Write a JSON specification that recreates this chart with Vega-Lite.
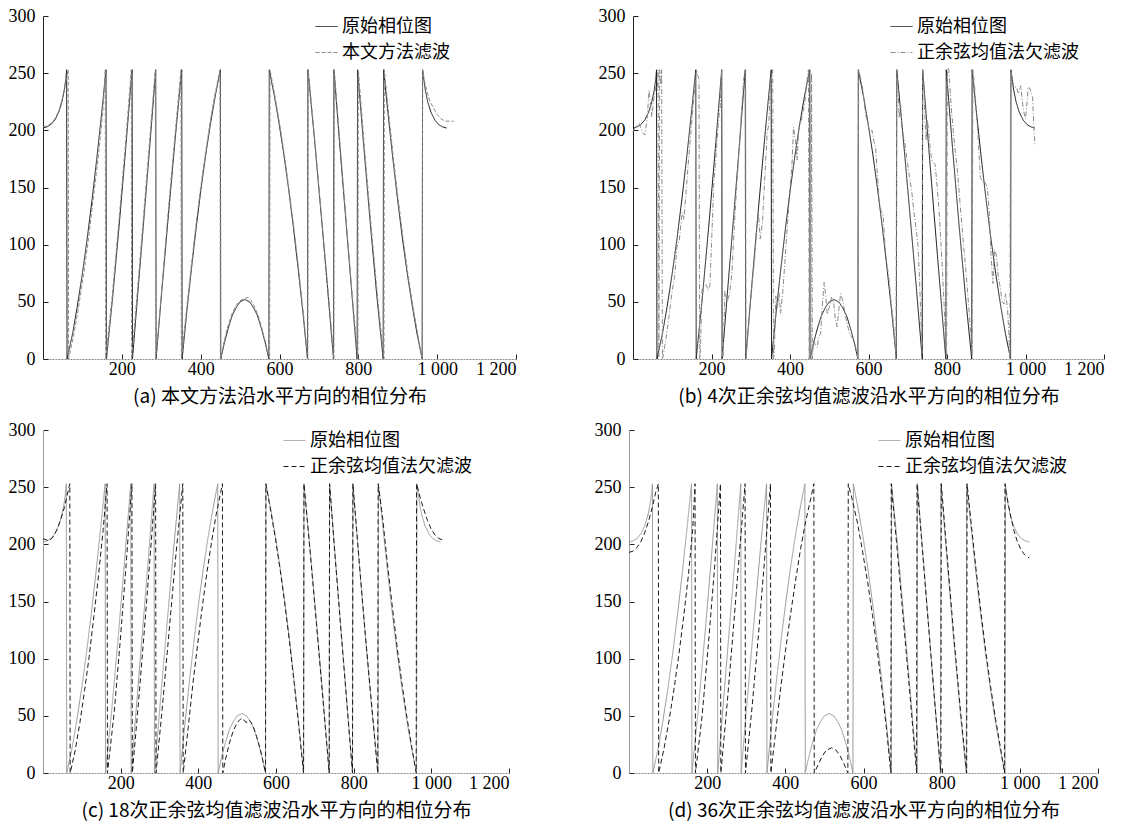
{
  "$schema": "https://vega.github.io/schema/vega-lite/v6.json",
  "background": "white",
  "padding": {"left": 8, "top": 7, "right": 5, "bottom": 5},
  "config": {
    "view": {"stroke": null},
    "axis": {"grid": false, "labelFont": "Liberation Serif", "labelFontSize": 18, "labelColor": "#000", "titleFont": "Noto Sans CJK SC", "titleFontSize": 19, "titleFontWeight": "normal", "titleColor": "#000", "domainColor": "#222", "tickColor": "#222"},
    "legend": {"title": null, "orient": "none", "legendY": -1, "symbolType": "stroke", "symbolSize": 484, "symbolStrokeWidth": 1, "labelFont": "Noto Sans CJK SC", "labelFontSize": 18, "labelColor": "#000", "labelLimit": 400, "rowPadding": 5, "padding": 0, "labelOffset": 4}
  },
  "datasets": {
    "orig": [
      {"x":0,"y":202,"s":"o"},{"x":10,"y":203,"s":"o"},{"x":20,"y":205,"s":"o"},{"x":30,"y":209,"s":"o"},{"x":40,"y":216,"s":"o"},{"x":48,"y":225,"s":"o"},{"x":54,"y":235,"s":"o"},{"x":58,"y":245,"s":"o"},{"x":60,"y":253,"s":"o"},{"x":61,"y":0,"s":"o"},{"x":75,"y":22,"s":"o"},{"x":87,"y":46,"s":"o"},{"x":100,"y":75,"s":"o"},{"x":112,"y":105,"s":"o"},{"x":125,"y":141,"s":"o"},{"x":137,"y":177,"s":"o"},{"x":150,"y":219,"s":"o"},{"x":160,"y":253,"s":"o"},{"x":161,"y":0,"s":"o"},{"x":177,"y":55,"s":"o"},{"x":194,"y":120,"s":"o"},{"x":210,"y":185,"s":"o"},{"x":226,"y":253,"s":"o"},{"x":227,"y":0,"s":"o"},{"x":242,"y":64,"s":"o"},{"x":257,"y":127,"s":"o"},{"x":272,"y":191,"s":"o"},{"x":286,"y":253,"s":"o"},{"x":287,"y":0,"s":"o"},{"x":303,"y":66,"s":"o"},{"x":320,"y":133,"s":"o"},{"x":336,"y":195,"s":"o"},{"x":352,"y":253,"s":"o"},{"x":353,"y":0,"s":"o"},{"x":365,"y":42,"s":"o"},{"x":377,"y":80,"s":"o"},{"x":389,"y":116,"s":"o"},{"x":401,"y":149,"s":"o"},{"x":413,"y":179,"s":"o"},{"x":425,"y":206,"s":"o"},{"x":437,"y":230,"s":"o"},{"x":450,"y":253,"s":"o"},{"x":451,"y":0,"s":"o"},{"x":460,"y":14,"s":"o"},{"x":470,"y":27,"s":"o"},{"x":480,"y":38,"s":"o"},{"x":490,"y":45,"s":"o"},{"x":500,"y":50,"s":"o"},{"x":512,"y":52,"s":"o"},{"x":524,"y":50,"s":"o"},{"x":534,"y":45,"s":"o"},{"x":544,"y":38,"s":"o"},{"x":554,"y":27,"s":"o"},{"x":564,"y":14,"s":"o"},{"x":573,"y":0,"s":"o"},{"x":574,"y":253,"s":"o"},{"x":587,"y":230,"s":"o"},{"x":599,"y":206,"s":"o"},{"x":611,"y":179,"s":"o"},{"x":623,"y":149,"s":"o"},{"x":635,"y":116,"s":"o"},{"x":647,"y":80,"s":"o"},{"x":659,"y":42,"s":"o"},{"x":671,"y":0,"s":"o"},{"x":672,"y":253,"s":"o"},{"x":688,"y":195,"s":"o"},{"x":704,"y":133,"s":"o"},{"x":721,"y":66,"s":"o"},{"x":737,"y":0,"s":"o"},{"x":738,"y":253,"s":"o"},{"x":752,"y":191,"s":"o"},{"x":767,"y":127,"s":"o"},{"x":782,"y":64,"s":"o"},{"x":797,"y":0,"s":"o"},{"x":798,"y":253,"s":"o"},{"x":814,"y":185,"s":"o"},{"x":830,"y":120,"s":"o"},{"x":847,"y":55,"s":"o"},{"x":863,"y":0,"s":"o"},{"x":864,"y":253,"s":"o"},{"x":874,"y":219,"s":"o"},{"x":887,"y":177,"s":"o"},{"x":899,"y":141,"s":"o"},{"x":912,"y":105,"s":"o"},{"x":924,"y":75,"s":"o"},{"x":937,"y":46,"s":"o"},{"x":949,"y":22,"s":"o"},{"x":962,"y":0,"s":"o"},{"x":963,"y":253,"s":"o"},{"x":966,"y":245,"s":"o"},{"x":970,"y":235,"s":"o"},{"x":976,"y":225,"s":"o"},{"x":984,"y":216,"s":"o"},{"x":994,"y":209,"s":"o"},{"x":1004,"y":205,"s":"o"},{"x":1014,"y":203,"s":"o"},{"x":1024,"y":202,"s":"o"}
    ],
    "fa": [
      {"x":0,"y":203,"s":"f"},{"x":10,"y":204,"s":"f"},{"x":20,"y":206,"s":"f"},{"x":30,"y":210,"s":"f"},{"x":40,"y":217,"s":"f"},{"x":48,"y":226,"s":"f"},{"x":55,"y":237,"s":"f"},{"x":60,"y":247,"s":"f"},{"x":64,"y":253,"s":"f"},{"x":65,"y":0,"s":"f"},{"x":78,"y":21,"s":"f"},{"x":90,"y":45,"s":"f"},{"x":103,"y":74,"s":"f"},{"x":115,"y":104,"s":"f"},{"x":127,"y":139,"s":"f"},{"x":140,"y":176,"s":"f"},{"x":152,"y":217,"s":"f"},{"x":158,"y":253,"s":"f"},{"x":159,"y":0,"s":"f"},{"x":175,"y":53,"s":"f"},{"x":192,"y":118,"s":"f"},{"x":208,"y":183,"s":"f"},{"x":224,"y":253,"s":"f"},{"x":225,"y":0,"s":"f"},{"x":240,"y":62,"s":"f"},{"x":255,"y":125,"s":"f"},{"x":270,"y":189,"s":"f"},{"x":285,"y":253,"s":"f"},{"x":286,"y":0,"s":"f"},{"x":302,"y":64,"s":"f"},{"x":318,"y":130,"s":"f"},{"x":334,"y":193,"s":"f"},{"x":350,"y":253,"s":"f"},{"x":351,"y":0,"s":"f"},{"x":364,"y":43,"s":"f"},{"x":376,"y":81,"s":"f"},{"x":388,"y":117,"s":"f"},{"x":400,"y":150,"s":"f"},{"x":412,"y":180,"s":"f"},{"x":424,"y":207,"s":"f"},{"x":436,"y":231,"s":"f"},{"x":449,"y":253,"s":"f"},{"x":450,"y":0,"s":"f"},{"x":460,"y":16,"s":"f"},{"x":470,"y":30,"s":"f"},{"x":480,"y":40,"s":"f"},{"x":490,"y":47,"s":"f"},{"x":500,"y":51,"s":"f"},{"x":512,"y":53,"s":"f"},{"x":520,"y":54,"s":"f"},{"x":528,"y":51,"s":"f"},{"x":536,"y":46,"s":"f"},{"x":546,"y":38,"s":"f"},{"x":556,"y":26,"s":"f"},{"x":566,"y":12,"s":"f"},{"x":575,"y":0,"s":"f"},{"x":576,"y":253,"s":"f"},{"x":589,"y":229,"s":"f"},{"x":601,"y":204,"s":"f"},{"x":613,"y":177,"s":"f"},{"x":625,"y":146,"s":"f"},{"x":637,"y":113,"s":"f"},{"x":649,"y":77,"s":"f"},{"x":661,"y":39,"s":"f"},{"x":672,"y":0,"s":"f"},{"x":673,"y":253,"s":"f"},{"x":689,"y":194,"s":"f"},{"x":705,"y":131,"s":"f"},{"x":722,"y":64,"s":"f"},{"x":738,"y":0,"s":"f"},{"x":739,"y":253,"s":"f"},{"x":753,"y":190,"s":"f"},{"x":768,"y":126,"s":"f"},{"x":783,"y":62,"s":"f"},{"x":799,"y":0,"s":"f"},{"x":800,"y":253,"s":"f"},{"x":816,"y":183,"s":"f"},{"x":832,"y":118,"s":"f"},{"x":849,"y":53,"s":"f"},{"x":865,"y":0,"s":"f"},{"x":866,"y":253,"s":"f"},{"x":876,"y":218,"s":"f"},{"x":889,"y":176,"s":"f"},{"x":901,"y":140,"s":"f"},{"x":914,"y":104,"s":"f"},{"x":926,"y":74,"s":"f"},{"x":939,"y":45,"s":"f"},{"x":951,"y":21,"s":"f"},{"x":962,"y":0,"s":"f"},{"x":963,"y":253,"s":"f"},{"x":968,"y":243,"s":"f"},{"x":974,"y":234,"s":"f"},{"x":982,"y":225,"s":"f"},{"x":990,"y":220,"s":"f"},{"x":1000,"y":214,"s":"f"},{"x":1010,"y":210,"s":"f"},{"x":1020,"y":208,"s":"f"},{"x":1030,"y":208,"s":"f"},{"x":1042,"y":208,"s":"f"}
    ],
    "fb": [
      {"x":0,"y":199,"s":"f"},{"x":8,"y":204,"s":"f"},{"x":16,"y":206,"s":"f"},{"x":24,"y":198,"s":"f"},{"x":30,"y":196,"s":"f"},{"x":36,"y":210,"s":"f"},{"x":41,"y":235,"s":"f"},{"x":45,"y":222,"s":"f"},{"x":48,"y":212,"s":"f"},{"x":53,"y":228,"s":"f"},{"x":58,"y":238,"s":"f"},{"x":62,"y":236,"s":"f"},{"x":64,"y":253,"s":"f"},{"x":66,"y":2,"s":"f"},{"x":68,"y":253,"s":"f"},{"x":71,"y":240,"s":"f"},{"x":73,"y":253,"s":"f"},{"x":75,"y":0,"s":"f"},{"x":78,"y":5,"s":"f"},{"x":84,"y":18,"s":"f"},{"x":92,"y":38,"s":"f"},{"x":100,"y":60,"s":"f"},{"x":106,"y":72,"s":"f"},{"x":112,"y":98,"s":"f"},{"x":118,"y":104,"s":"f"},{"x":125,"y":128,"s":"f"},{"x":130,"y":122,"s":"f"},{"x":136,"y":150,"s":"f"},{"x":142,"y":176,"s":"f"},{"x":148,"y":200,"s":"f"},{"x":154,"y":225,"s":"f"},{"x":158,"y":240,"s":"f"},{"x":162,"y":253,"s":"f"},{"x":165,"y":248,"s":"f"},{"x":168,"y":245,"s":"f"},{"x":170,"y":0,"s":"f"},{"x":172,"y":10,"s":"f"},{"x":176,"y":62,"s":"f"},{"x":186,"y":65,"s":"f"},{"x":192,"y":60,"s":"f"},{"x":196,"y":65,"s":"f"},{"x":200,"y":100,"s":"f"},{"x":206,"y":155,"s":"f"},{"x":212,"y":180,"s":"f"},{"x":218,"y":210,"s":"f"},{"x":222,"y":220,"s":"f"},{"x":226,"y":253,"s":"f"},{"x":228,"y":0,"s":"f"},{"x":230,"y":3,"s":"f"},{"x":234,"y":60,"s":"f"},{"x":240,"y":50,"s":"f"},{"x":246,"y":57,"s":"f"},{"x":252,"y":75,"s":"f"},{"x":258,"y":115,"s":"f"},{"x":264,"y":150,"s":"f"},{"x":270,"y":180,"s":"f"},{"x":276,"y":215,"s":"f"},{"x":282,"y":245,"s":"f"},{"x":287,"y":253,"s":"f"},{"x":288,"y":0,"s":"f"},{"x":295,"y":30,"s":"f"},{"x":302,"y":60,"s":"f"},{"x":310,"y":88,"s":"f"},{"x":316,"y":118,"s":"f"},{"x":320,"y":127,"s":"f"},{"x":324,"y":105,"s":"f"},{"x":330,"y":120,"s":"f"},{"x":336,"y":160,"s":"f"},{"x":342,"y":198,"s":"f"},{"x":346,"y":205,"s":"f"},{"x":350,"y":240,"s":"f"},{"x":356,"y":253,"s":"f"},{"x":358,"y":0,"s":"f"},{"x":360,"y":5,"s":"f"},{"x":364,"y":55,"s":"f"},{"x":368,"y":45,"s":"f"},{"x":372,"y":58,"s":"f"},{"x":376,"y":40,"s":"f"},{"x":382,"y":60,"s":"f"},{"x":390,"y":100,"s":"f"},{"x":398,"y":140,"s":"f"},{"x":405,"y":170,"s":"f"},{"x":409,"y":203,"s":"f"},{"x":414,"y":190,"s":"f"},{"x":418,"y":174,"s":"f"},{"x":422,"y":200,"s":"f"},{"x":425,"y":206,"s":"f"},{"x":430,"y":210,"s":"f"},{"x":434,"y":217,"s":"f"},{"x":438,"y":225,"s":"f"},{"x":442,"y":240,"s":"f"},{"x":447,"y":253,"s":"f"},{"x":449,"y":0,"s":"f"},{"x":451,"y":253,"s":"f"},{"x":453,"y":0,"s":"f"},{"x":455,"y":250,"s":"f"},{"x":457,"y":0,"s":"f"},{"x":460,"y":16,"s":"f"},{"x":465,"y":12,"s":"f"},{"x":469,"y":10,"s":"f"},{"x":474,"y":20,"s":"f"},{"x":478,"y":22,"s":"f"},{"x":483,"y":50,"s":"f"},{"x":487,"y":67,"s":"f"},{"x":491,"y":55,"s":"f"},{"x":495,"y":39,"s":"f"},{"x":500,"y":45,"s":"f"},{"x":506,"y":54,"s":"f"},{"x":511,"y":50,"s":"f"},{"x":515,"y":36,"s":"f"},{"x":520,"y":28,"s":"f"},{"x":525,"y":45,"s":"f"},{"x":529,"y":57,"s":"f"},{"x":534,"y":52,"s":"f"},{"x":540,"y":40,"s":"f"},{"x":546,"y":30,"s":"f"},{"x":552,"y":22,"s":"f"},{"x":560,"y":18,"s":"f"},{"x":566,"y":12,"s":"f"},{"x":571,"y":5,"s":"f"},{"x":573,"y":0,"s":"f"},{"x":575,"y":253,"s":"f"},{"x":580,"y":245,"s":"f"},{"x":586,"y":235,"s":"f"},{"x":592,"y":215,"s":"f"},{"x":598,"y":206,"s":"f"},{"x":603,"y":198,"s":"f"},{"x":609,"y":200,"s":"f"},{"x":614,"y":190,"s":"f"},{"x":618,"y":185,"s":"f"},{"x":622,"y":165,"s":"f"},{"x":627,"y":139,"s":"f"},{"x":632,"y":130,"s":"f"},{"x":637,"y":127,"s":"f"},{"x":642,"y":100,"s":"f"},{"x":646,"y":86,"s":"f"},{"x":652,"y":70,"s":"f"},{"x":658,"y":48,"s":"f"},{"x":664,"y":30,"s":"f"},{"x":668,"y":12,"s":"f"},{"x":670,"y":0,"s":"f"},{"x":672,"y":253,"s":"f"},{"x":675,"y":240,"s":"f"},{"x":678,"y":211,"s":"f"},{"x":682,"y":222,"s":"f"},{"x":686,"y":200,"s":"f"},{"x":692,"y":190,"s":"f"},{"x":698,"y":175,"s":"f"},{"x":704,"y":160,"s":"f"},{"x":710,"y":147,"s":"f"},{"x":716,"y":128,"s":"f"},{"x":722,"y":112,"s":"f"},{"x":726,"y":100,"s":"f"},{"x":730,"y":70,"s":"f"},{"x":734,"y":30,"s":"f"},{"x":736,"y":5,"s":"f"},{"x":738,"y":253,"s":"f"},{"x":741,"y":240,"s":"f"},{"x":744,"y":210,"s":"f"},{"x":747,"y":191,"s":"f"},{"x":750,"y":209,"s":"f"},{"x":753,"y":200,"s":"f"},{"x":757,"y":185,"s":"f"},{"x":761,"y":174,"s":"f"},{"x":765,"y":172,"s":"f"},{"x":770,"y":170,"s":"f"},{"x":775,"y":150,"s":"f"},{"x":779,"y":133,"s":"f"},{"x":784,"y":105,"s":"f"},{"x":788,"y":80,"s":"f"},{"x":793,"y":45,"s":"f"},{"x":797,"y":10,"s":"f"},{"x":799,"y":0,"s":"f"},{"x":801,"y":253,"s":"f"},{"x":804,"y":255,"s":"f"},{"x":807,"y":240,"s":"f"},{"x":812,"y":215,"s":"f"},{"x":816,"y":200,"s":"f"},{"x":820,"y":185,"s":"f"},{"x":825,"y":170,"s":"f"},{"x":830,"y":150,"s":"f"},{"x":836,"y":125,"s":"f"},{"x":842,"y":100,"s":"f"},{"x":848,"y":78,"s":"f"},{"x":854,"y":52,"s":"f"},{"x":860,"y":25,"s":"f"},{"x":864,"y":3,"s":"f"},{"x":866,"y":253,"s":"f"},{"x":870,"y":240,"s":"f"},{"x":875,"y":215,"s":"f"},{"x":880,"y":190,"s":"f"},{"x":885,"y":159,"s":"f"},{"x":890,"y":155,"s":"f"},{"x":894,"y":156,"s":"f"},{"x":899,"y":153,"s":"f"},{"x":903,"y":150,"s":"f"},{"x":908,"y":127,"s":"f"},{"x":912,"y":92,"s":"f"},{"x":917,"y":66,"s":"f"},{"x":921,"y":96,"s":"f"},{"x":926,"y":90,"s":"f"},{"x":931,"y":71,"s":"f"},{"x":936,"y":62,"s":"f"},{"x":940,"y":51,"s":"f"},{"x":945,"y":48,"s":"f"},{"x":949,"y":57,"s":"f"},{"x":954,"y":45,"s":"f"},{"x":958,"y":20,"s":"f"},{"x":960,"y":0,"s":"f"},{"x":962,"y":253,"s":"f"},{"x":966,"y":245,"s":"f"},{"x":970,"y":238,"s":"f"},{"x":977,"y":238,"s":"f"},{"x":982,"y":232,"s":"f"},{"x":988,"y":239,"s":"f"},{"x":992,"y":225,"s":"f"},{"x":995,"y":217,"s":"f"},{"x":1000,"y":210,"s":"f"},{"x":1004,"y":225,"s":"f"},{"x":1007,"y":238,"s":"f"},{"x":1012,"y":236,"s":"f"},{"x":1018,"y":229,"s":"f"},{"x":1021,"y":205,"s":"f"},{"x":1024,"y":186,"s":"f"}
    ],
    "fc": [
      {"x":0,"y":205,"s":"f"},{"x":8,"y":204,"s":"f"},{"x":15,"y":203,"s":"f"},{"x":25,"y":206,"s":"f"},{"x":35,"y":212,"s":"f"},{"x":45,"y":221,"s":"f"},{"x":55,"y":232,"s":"f"},{"x":63,"y":244,"s":"f"},{"x":69,"y":253,"s":"f"},{"x":70,"y":0,"s":"f"},{"x":83,"y":20,"s":"f"},{"x":95,"y":44,"s":"f"},{"x":107,"y":72,"s":"f"},{"x":119,"y":102,"s":"f"},{"x":131,"y":137,"s":"f"},{"x":143,"y":173,"s":"f"},{"x":155,"y":213,"s":"f"},{"x":165,"y":253,"s":"f"},{"x":166,"y":0,"s":"f"},{"x":183,"y":52,"s":"f"},{"x":199,"y":116,"s":"f"},{"x":214,"y":182,"s":"f"},{"x":229,"y":253,"s":"f"},{"x":230,"y":0,"s":"f"},{"x":246,"y":62,"s":"f"},{"x":261,"y":125,"s":"f"},{"x":276,"y":190,"s":"f"},{"x":290,"y":253,"s":"f"},{"x":291,"y":0,"s":"f"},{"x":308,"y":60,"s":"f"},{"x":325,"y":125,"s":"f"},{"x":342,"y":190,"s":"f"},{"x":360,"y":253,"s":"f"},{"x":361,"y":0,"s":"f"},{"x":374,"y":40,"s":"f"},{"x":386,"y":78,"s":"f"},{"x":398,"y":112,"s":"f"},{"x":410,"y":145,"s":"f"},{"x":422,"y":175,"s":"f"},{"x":434,"y":202,"s":"f"},{"x":446,"y":226,"s":"f"},{"x":462,"y":253,"s":"f"},{"x":463,"y":0,"s":"f"},{"x":470,"y":12,"s":"f"},{"x":480,"y":26,"s":"f"},{"x":490,"y":37,"s":"f"},{"x":500,"y":44,"s":"f"},{"x":508,"y":47,"s":"f"},{"x":514,"y":48,"s":"f"},{"x":520,"y":45,"s":"f"},{"x":526,"y":44,"s":"f"},{"x":532,"y":46,"s":"f"},{"x":540,"y":42,"s":"f"},{"x":550,"y":32,"s":"f"},{"x":560,"y":20,"s":"f"},{"x":568,"y":8,"s":"f"},{"x":573,"y":0,"s":"f"},{"x":574,"y":253,"s":"f"},{"x":587,"y":228,"s":"f"},{"x":599,"y":204,"s":"f"},{"x":611,"y":177,"s":"f"},{"x":623,"y":147,"s":"f"},{"x":635,"y":114,"s":"f"},{"x":647,"y":78,"s":"f"},{"x":659,"y":40,"s":"f"},{"x":671,"y":0,"s":"f"},{"x":672,"y":253,"s":"f"},{"x":688,"y":193,"s":"f"},{"x":704,"y":131,"s":"f"},{"x":721,"y":64,"s":"f"},{"x":737,"y":0,"s":"f"},{"x":738,"y":253,"s":"f"},{"x":752,"y":190,"s":"f"},{"x":767,"y":126,"s":"f"},{"x":782,"y":63,"s":"f"},{"x":797,"y":0,"s":"f"},{"x":798,"y":253,"s":"f"},{"x":814,"y":186,"s":"f"},{"x":830,"y":121,"s":"f"},{"x":847,"y":57,"s":"f"},{"x":862,"y":0,"s":"f"},{"x":863,"y":253,"s":"f"},{"x":874,"y":225,"s":"f"},{"x":887,"y":183,"s":"f"},{"x":899,"y":147,"s":"f"},{"x":912,"y":110,"s":"f"},{"x":924,"y":79,"s":"f"},{"x":937,"y":49,"s":"f"},{"x":949,"y":24,"s":"f"},{"x":961,"y":0,"s":"f"},{"x":962,"y":253,"s":"f"},{"x":966,"y":248,"s":"f"},{"x":972,"y":240,"s":"f"},{"x":980,"y":231,"s":"f"},{"x":990,"y":221,"s":"f"},{"x":1000,"y":213,"s":"f"},{"x":1010,"y":208,"s":"f"},{"x":1020,"y":205,"s":"f"},{"x":1028,"y":204,"s":"f"}
    ],
    "fd": [
      {"x":0,"y":193,"s":"f"},{"x":10,"y":194,"s":"f"},{"x":20,"y":197,"s":"f"},{"x":30,"y":202,"s":"f"},{"x":40,"y":210,"s":"f"},{"x":50,"y":220,"s":"f"},{"x":60,"y":233,"s":"f"},{"x":68,"y":245,"s":"f"},{"x":75,"y":253,"s":"f"},{"x":76,"y":0,"s":"f"},{"x":90,"y":22,"s":"f"},{"x":102,"y":45,"s":"f"},{"x":115,"y":73,"s":"f"},{"x":127,"y":102,"s":"f"},{"x":140,"y":137,"s":"f"},{"x":152,"y":173,"s":"f"},{"x":163,"y":213,"s":"f"},{"x":169,"y":253,"s":"f"},{"x":170,"y":0,"s":"f"},{"x":187,"y":50,"s":"f"},{"x":203,"y":112,"s":"f"},{"x":219,"y":180,"s":"f"},{"x":234,"y":253,"s":"f"},{"x":235,"y":0,"s":"f"},{"x":251,"y":60,"s":"f"},{"x":266,"y":122,"s":"f"},{"x":282,"y":190,"s":"f"},{"x":297,"y":253,"s":"f"},{"x":298,"y":0,"s":"f"},{"x":315,"y":58,"s":"f"},{"x":331,"y":120,"s":"f"},{"x":347,"y":187,"s":"f"},{"x":362,"y":253,"s":"f"},{"x":363,"y":0,"s":"f"},{"x":376,"y":38,"s":"f"},{"x":388,"y":74,"s":"f"},{"x":400,"y":106,"s":"f"},{"x":413,"y":138,"s":"f"},{"x":426,"y":168,"s":"f"},{"x":439,"y":196,"s":"f"},{"x":452,"y":220,"s":"f"},{"x":465,"y":240,"s":"f"},{"x":473,"y":253,"s":"f"},{"x":474,"y":0,"s":"f"},{"x":485,"y":8,"s":"f"},{"x":495,"y":15,"s":"f"},{"x":505,"y":20,"s":"f"},{"x":518,"y":22,"s":"f"},{"x":530,"y":20,"s":"f"},{"x":540,"y":15,"s":"f"},{"x":550,"y":8,"s":"f"},{"x":560,"y":0,"s":"f"},{"x":561,"y":253,"s":"f"},{"x":572,"y":238,"s":"f"},{"x":585,"y":218,"s":"f"},{"x":598,"y":193,"s":"f"},{"x":611,"y":166,"s":"f"},{"x":623,"y":138,"s":"f"},{"x":635,"y":108,"s":"f"},{"x":647,"y":74,"s":"f"},{"x":659,"y":38,"s":"f"},{"x":670,"y":0,"s":"f"},{"x":671,"y":253,"s":"f"},{"x":687,"y":192,"s":"f"},{"x":703,"y":130,"s":"f"},{"x":720,"y":64,"s":"f"},{"x":736,"y":0,"s":"f"},{"x":737,"y":253,"s":"f"},{"x":752,"y":190,"s":"f"},{"x":767,"y":126,"s":"f"},{"x":782,"y":63,"s":"f"},{"x":798,"y":0,"s":"f"},{"x":799,"y":253,"s":"f"},{"x":815,"y":186,"s":"f"},{"x":831,"y":120,"s":"f"},{"x":848,"y":55,"s":"f"},{"x":864,"y":0,"s":"f"},{"x":865,"y":253,"s":"f"},{"x":875,"y":220,"s":"f"},{"x":888,"y":178,"s":"f"},{"x":900,"y":142,"s":"f"},{"x":913,"y":106,"s":"f"},{"x":925,"y":76,"s":"f"},{"x":938,"y":47,"s":"f"},{"x":950,"y":23,"s":"f"},{"x":961,"y":0,"s":"f"},{"x":962,"y":253,"s":"f"},{"x":965,"y":245,"s":"f"},{"x":970,"y":236,"s":"f"},{"x":977,"y":224,"s":"f"},{"x":985,"y":212,"s":"f"},{"x":993,"y":203,"s":"f"},{"x":1002,"y":196,"s":"f"},{"x":1012,"y":191,"s":"f"},{"x":1024,"y":188,"s":"f"}
    ]
  },
  "vconcat": [
    {
      "hconcat": [
        {
          "width": 473, "height": 343,
          "encoding": {
            "x": {"field": "x", "type": "quantitative", "scale": {"domain": [0, 1200], "nice": false, "zero": false}, "axis": {"values": [200, 400, 600, 800, 1000, 1200], "labelExpr": "replace(format(datum.value, ','), ',', ' ')", "title": "(a) 本文方法沿水平方向的相位分布", "tickSize": -5, "labelPadding": 6, "titlePadding": 9, "domainColor": "#888", "domainDash": [2, 1]}},
            "y": {"field": "y", "type": "quantitative", "scale": {"domain": [0, 300], "nice": false}, "axis": {"values": [0, 50, 100, 150, 200, 250, 300], "title": null, "tickSize": -5, "labelPadding": 13}},
            "color": {"field": "s", "type": "nominal", "scale": {"domain": ["o", "f"], "range": ["#1a1a1a", "#8a8a8a"]}, "legend": {"legendX": 272, "labelExpr": "datum.label == 'o' ? '原始相位图' : '本文方法滤波'"}},
            "strokeDash": {"field": "s", "type": "nominal", "scale": {"domain": ["o", "f"], "range": [[1, 0], [4, 2]]}, "legend": {"legendX": 272, "labelExpr": "datum.label == 'o' ? '原始相位图' : '本文方法滤波'"}}
          },
          "layer": [
            {"data": {"name": "orig"}, "mark": {"type": "line", "strokeWidth": 1}},
            {"data": {"name": "fa"}, "mark": {"type": "line", "strokeWidth": 1}}
          ]
        },
        {
          "width": 471, "height": 343,
          "encoding": {
            "x": {"field": "x", "type": "quantitative", "scale": {"domain": [0, 1200], "nice": false, "zero": false}, "axis": {"values": [200, 400, 600, 800, 1000, 1200], "labelExpr": "replace(format(datum.value, ','), ',', ' ')", "title": "(b) 4次正余弦均值滤波沿水平方向的相位分布", "tickSize": -5, "labelPadding": 6, "titlePadding": 9, "domainColor": "#888", "domainDash": [2, 1]}},
            "y": {"field": "y", "type": "quantitative", "scale": {"domain": [0, 300], "nice": false}, "axis": {"values": [0, 50, 100, 150, 200, 250, 300], "title": null, "tickSize": -5, "labelPadding": 13}},
            "color": {"field": "s", "type": "nominal", "scale": {"domain": ["o", "f"], "range": ["#1a1a1a", "#8a8a8a"]}, "legend": {"legendX": 257, "labelExpr": "datum.label == 'o' ? '原始相位图' : '正余弦均值法欠滤波'"}},
            "strokeDash": {"field": "s", "type": "nominal", "scale": {"domain": ["o", "f"], "range": [[1, 0], [5, 2, 1, 2]]}, "legend": {"legendX": 257, "labelExpr": "datum.label == 'o' ? '原始相位图' : '正余弦均值法欠滤波'"}}
          },
          "layer": [
            {"data": {"name": "orig"}, "mark": {"type": "line", "strokeWidth": 1}},
            {"data": {"name": "fb"}, "mark": {"type": "line", "strokeWidth": 1}}
          ]
        }
      ],
      "spacing": 117,
      "bounds": "flush",
      "resolve": {"scale": {"color": "independent", "strokeDash": "independent"}}
    },
    {
      "hconcat": [
        {
          "width": 466, "height": 343,
          "encoding": {
            "x": {"field": "x", "type": "quantitative", "scale": {"domain": [0, 1200], "nice": false, "zero": false}, "axis": {"values": [200, 400, 600, 800, 1000, 1200], "labelExpr": "replace(format(datum.value, ','), ',', ' ')", "title": "(c) 18次正余弦均值滤波沿水平方向的相位分布", "tickSize": -5, "labelPadding": 6, "titlePadding": 9, "domainColor": "#888", "domainDash": [2, 1]}},
            "y": {"field": "y", "type": "quantitative", "scale": {"domain": [0, 300], "nice": false}, "axis": {"values": [0, 50, 100, 150, 200, 250, 300], "title": null, "tickSize": -5, "labelPadding": 13, "domainColor": "#999"}},
            "color": {"field": "s", "type": "nominal", "scale": {"domain": ["o", "f"], "range": ["#9a9a9a", "#1a1a1a"]}, "legend": {"legendX": 240, "labelExpr": "datum.label == 'o' ? '原始相位图' : '正余弦均值法欠滤波'"}},
            "strokeDash": {"field": "s", "type": "nominal", "scale": {"domain": ["o", "f"], "range": [[1, 0], [5, 3]]}, "legend": {"legendX": 240, "labelExpr": "datum.label == 'o' ? '原始相位图' : '正余弦均值法欠滤波'"}}
          },
          "layer": [
            {"data": {"name": "orig"}, "mark": {"type": "line", "strokeWidth": 1}},
            {"data": {"name": "fc"}, "mark": {"type": "line", "strokeWidth": 1}}
          ]
        },
        {
          "width": 469, "height": 343,
          "encoding": {
            "x": {"field": "x", "type": "quantitative", "scale": {"domain": [0, 1200], "nice": false, "zero": false}, "axis": {"values": [200, 400, 600, 800, 1000, 1200], "labelExpr": "replace(format(datum.value, ','), ',', ' ')", "title": "(d) 36次正余弦均值滤波沿水平方向的相位分布", "tickSize": -5, "labelPadding": 6, "titlePadding": 9, "domainColor": "#888", "domainDash": [2, 1]}},
            "y": {"field": "y", "type": "quantitative", "scale": {"domain": [0, 300], "nice": false}, "axis": {"values": [0, 50, 100, 150, 200, 250, 300], "title": null, "tickSize": -5, "labelPadding": 13, "domainColor": "#999"}},
            "color": {"field": "s", "type": "nominal", "scale": {"domain": ["o", "f"], "range": ["#9a9a9a", "#1a1a1a"]}, "legend": {"legendX": 249, "labelExpr": "datum.label == 'o' ? '原始相位图' : '正余弦均值法欠滤波'"}},
            "strokeDash": {"field": "s", "type": "nominal", "scale": {"domain": ["o", "f"], "range": [[1, 0], [5, 3]]}, "legend": {"legendX": 249, "labelExpr": "datum.label == 'o' ? '原始相位图' : '正余弦均值法欠滤波'"}}
          },
          "layer": [
            {"data": {"name": "orig"}, "mark": {"type": "line", "strokeWidth": 1}},
            {"data": {"name": "fd"}, "mark": {"type": "line", "strokeWidth": 1}}
          ]
        }
      ],
      "spacing": 120,
      "bounds": "flush",
      "resolve": {"scale": {"color": "independent", "strokeDash": "independent"}}
    }
  ],
  "spacing": 15,
  "resolve": {"scale": {"color": "independent", "strokeDash": "independent"}}
}
